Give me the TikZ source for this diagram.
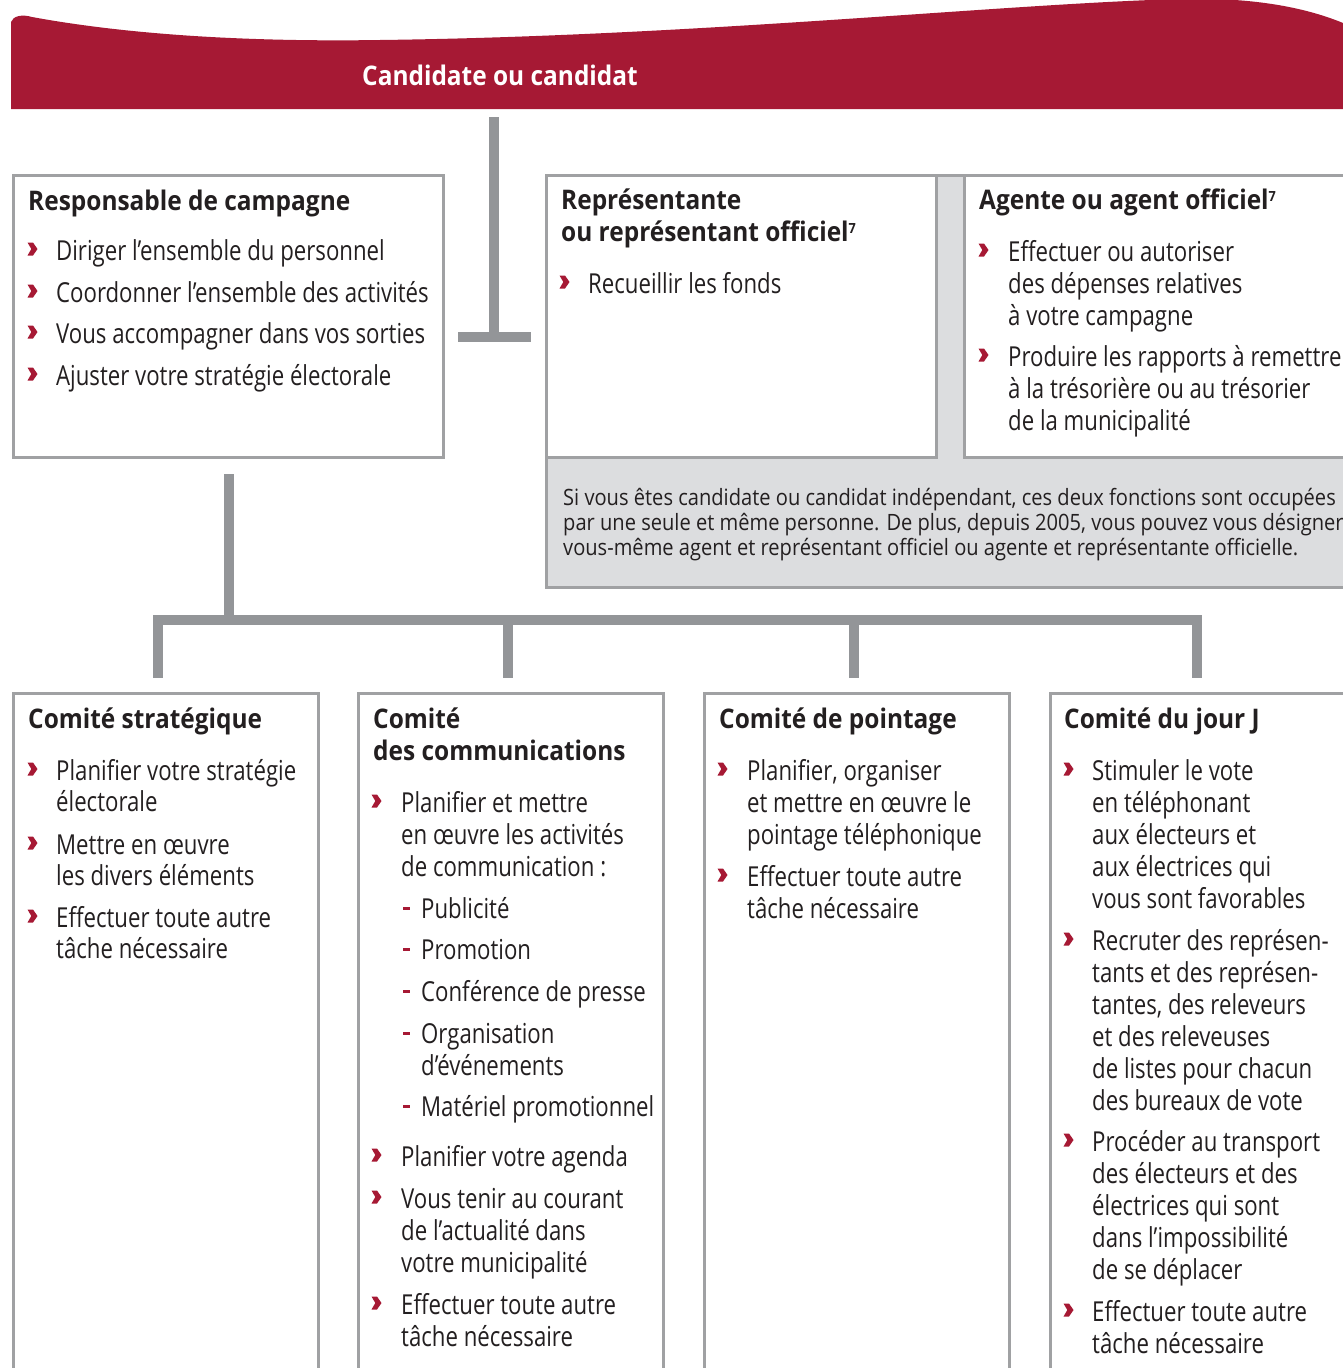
\documentclass[tikz,border=0pt]{standalone}
\usepackage{fontspec}
\setmainfont{Open Sans}
\newfontfamily\bodyf{Open Sans}[FakeStretch=0.807]
\newfontfamily\headf{Open Sans}[FakeStretch=0.905]
\newfontfamily\notef{Open Sans}[FakeStretch=0.893]
\definecolor{brand}{RGB}{166,25,52}
\definecolor{conngray}{RGB}{147,149,152}
\definecolor{boxgray}{RGB}{160,161,163}
\definecolor{bandgray}{RGB}{220,221,223}
\definecolor{ink}{RGB}{35,31,32}
\tikzset{
  txt/.style={inner sep=0pt, anchor=base west, text=ink, font=\bodyf\fontsize{27.5}{32}\selectfont},
  hd/.style={inner sep=0pt, anchor=base west, text=ink, font=\headf\bfseries\fontsize{27}{32}\selectfont},
  nt/.style={inner sep=0pt, anchor=base west, text=ink, font=\notef\fontsize{22.5}{26}\selectfont},
  boxframe/.style={draw=boxgray, line width=2.5pt, fill=white, inner sep=0pt, anchor=north west},
  conn/.style={draw=conngray, line width=10pt, line cap=butt}
}
\newcommand\tln[4]{\node[txt] (#1) at (#2,#3) {#4};}
\newcommand\hln[4]{\node[hd] (#1) at (#2,#3) {#4};}
\newcommand\supseven{\raisebox{8pt}{\fontsize{14}{14}\selectfont 7}}
\newcommand\bul[2]{\fill[brand] (#1,#2) ++(-0.5,-17.5) -- ++(5.5,0) -- ++(4.5,6.5) -- ++(-4.5,6.5) -- ++(-5.5,0) -- ++(3.8,-6.5) -- cycle;}
\newcommand\dsh[2]{\fill[brand] (#1,#2-11.5) rectangle ++(7,3);}
\begin{document}
\begin{tikzpicture}[x=1pt,y=-1pt]
\useasboundingbox (0,0) rectangle (1343,1368);
\clip (0,0) rectangle (1343,1368);
\fill[white] (0,0) rectangle (1343,1368);
% banner
\fill[brand] (11,109) -- (11,22) .. controls (13,16) and (22,14) .. (32,17)
  .. controls (130,35) and (250,42) .. (380,40)
  .. controls (700,36) and (1000,4) .. (1180,-1)
  .. controls (1255,-3) and (1310,8) .. (1350,26) -- (1350,109) -- cycle;
\node[inner sep=0pt, anchor=base west, text=white, font=\headf\bfseries\fontsize{27}{32}\selectfont] (cand) at (362,85) {Candidate ou candidat};
% gray band
\node[boxframe, fill=bandgray, minimum width=820pt, minimum height=412pt] (band) at (545,174) {};
% top boxes
\node[boxframe, minimum width=430pt, minimum height=282pt] (resp) at (12,174) {};
\node[boxframe, minimum width=390pt, minimum height=282pt] (rep) at (545,174) {};
\node[boxframe, minimum width=400pt, minimum height=282pt] (agent) at (963,174) {};
% bottom boxes
\node[boxframe, minimum width=305pt, minimum height=720pt] (c1) at (12,692) {};
\node[boxframe, minimum width=305pt, minimum height=720pt] (c2) at (357,692) {};
\node[boxframe, minimum width=305pt, minimum height=720pt] (c3) at (703,692) {};
\node[boxframe, minimum width=320pt, minimum height=720pt] (c4) at (1049,692) {};
% connectors
\coordinate (t1) at (494,117);
\coordinate (t2) at (494,341);
\coordinate (tb1) at (458,336.5);
\coordinate (tb2) at (531,336.5);
\draw[conn] (t1) -- (t2);
\draw[conn] (tb1) -- (tb2);
\coordinate (v1) at (229,474);
\coordinate (v2) at (229,620);
\coordinate (h1) at (153,620);
\coordinate (h2) at (1202,620);
\draw[conn] (v1) -- (v2);
\draw[conn] (h1) -- (h2);
\foreach \xx/\nm in {158/d1,508/d2,854/d3,1197/d4}{
  \coordinate (\nm a) at (\xx,620);
  \coordinate (\nm b) at (\xx,678);
  \draw[conn] (\nm a) -- (\nm b);
}
% Responsable
\hln{rh}{28}{210}{Responsable de campagne}
\bul{28}{260}\tln{r1}{56}{260}{Diriger l’ensemble du personnel}
\bul{28}{302}\tln{r2}{56}{302}{Coordonner l’ensemble des activités}
\bul{28}{343}\tln{r3}{56}{343}{Vous accompagner dans vos sorties}
\bul{28}{385}\tln{r4}{56}{385}{Ajuster votre stratégie électorale}
% Representant
\hln{ph1}{561}{209}{Représentante}
\hln{ph2}{561}{241}{ou représentant officiel\supseven}
\bul{560}{293}\tln{p1}{588}{293}{Recueillir les fonds}
% Agent
\hln{ah}{979}{209}{Agente ou agent officiel\supseven}
\bul{979}{261}\tln{a1}{1008}{261}{Effectuer ou autoriser}
\tln{a2}{1008}{293}{des dépenses relatives}
\tln{a3}{1008}{325}{à votre campagne}
\bul{979}{366}\tln{a4}{1008}{366}{Produire les rapports à remettre}
\tln{a5}{1008}{398}{à la trésorière ou au trésorier}
\tln{a6}{1008}{430}{de la municipalité}
% Note
\node[nt] (n1) at (563,505) {Si vous êtes candidate ou candidat indépendant, ces deux fonctions sont occupées};
\node[nt] (n2) at (563,530) {par une seule et même personne. De plus, depuis 2005, vous pouvez vous désigner};
\node[nt] (n3) at (563,555) {vous-même agent et représentant officiel ou agente et représentante officielle.};
% Comite strategique
\hln{s0}{28}{728}{Comité stratégique}
\bul{28}{780}\tln{s1}{56}{780}{Planifier votre stratégie}
\tln{s2}{56}{811}{électorale}
\bul{28}{854}\tln{s3}{56}{854}{Mettre en œuvre}
\tln{s4}{56}{885}{les divers éléments}
\bul{28}{927}\tln{s5}{56}{927}{Effectuer toute autre}
\tln{s6}{56}{958}{tâche nécessaire}
% Comite communications
\hln{m0}{373}{728}{Comité}
\hln{m00}{373}{760}{des communications}
\bul{372}{812}\tln{m1}{401}{812}{Planifier et mettre}
\tln{m2}{401}{844}{en œuvre les activités}
\tln{m3}{401}{876}{de communication :}
\dsh{403}{918}\tln{m4}{421}{918}{Publicité}
\dsh{403}{959}\tln{m5}{421}{959}{Promotion}
\dsh{403}{1001}\tln{m6}{421}{1001}{Conférence de presse}
\dsh{403}{1043}\tln{m7}{421}{1043}{Organisation}
\tln{m8}{421}{1075}{d’événements}
\dsh{403}{1116}\tln{m9}{421}{1116}{Matériel promotionnel}
\bul{372}{1166}\tln{m10}{401}{1166}{Planifier votre agenda}
\bul{372}{1208}\tln{m11}{401}{1208}{Vous tenir au courant}
\tln{m12}{401}{1240}{de l’actualité dans}
\tln{m13}{401}{1272}{votre municipalité}
\bul{372}{1314}\tln{m14}{401}{1314}{Effectuer toute autre}
\tln{m15}{401}{1346}{tâche nécessaire}
% Comite pointage
\hln{q0}{719}{728}{Comité de pointage}
\bul{718}{780}\tln{q1}{747}{780}{Planifier, organiser}
\tln{q2}{747}{812}{et mettre en œuvre le}
\tln{q3}{747}{844}{pointage téléphonique}
\bul{718}{886}\tln{q4}{747}{886}{Effectuer toute autre}
\tln{q5}{747}{918}{tâche nécessaire}
% Comite jour J
\hln{j0}{1064}{728}{Comité du jour J}
\bul{1064}{780}\tln{j1}{1092}{780}{Stimuler le vote}
\tln{j2}{1092}{812}{en téléphonant}
\tln{j3}{1092}{844}{aux électeurs et}
\tln{j4}{1092}{876}{aux électrices qui}
\tln{j5}{1092}{908}{vous sont favorables}
\bul{1064}{950}\tln{j6}{1092}{950}{Recruter des représen-}
\tln{j7}{1092}{982}{tants et des représen-}
\tln{j8}{1092}{1014}{tantes, des releveurs}
\tln{j9}{1092}{1046}{et des releveuses}
\tln{j10}{1092}{1078}{de listes pour chacun}
\tln{j11}{1092}{1110}{des bureaux de vote}
\bul{1064}{1151}\tln{j12}{1092}{1151}{Procéder au transport}
\tln{j13}{1092}{1183}{des électeurs et des}
\tln{j14}{1092}{1215}{électrices qui sont}
\tln{j15}{1092}{1247}{dans l’impossibilité}
\tln{j16}{1092}{1279}{de se déplacer}
\bul{1064}{1321}\tln{j17}{1092}{1321}{Effectuer toute autre}
\tln{j18}{1092}{1353}{tâche nécessaire}
\end{tikzpicture}
\end{document}
